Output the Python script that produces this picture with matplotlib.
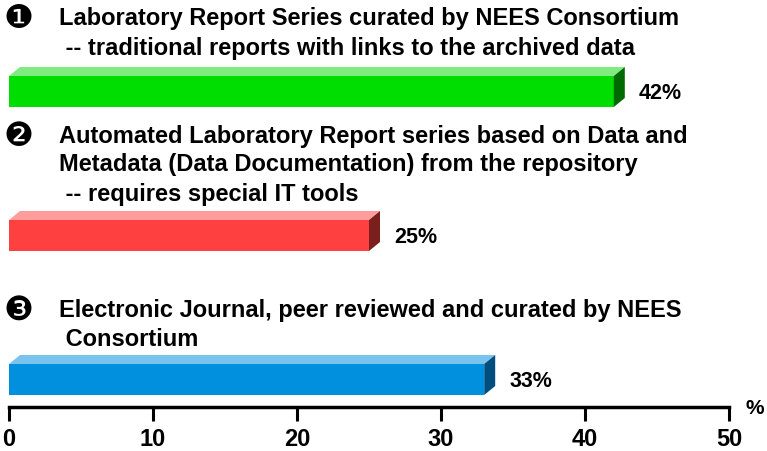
import matplotlib
matplotlib.use("Agg")
import matplotlib.pyplot as plt
from matplotlib.patches import Polygon

# data
values = [42, 25, 33]
markers = ["\u2776", "\u2777", "\u2778"]
captions = [
    ["Laboratory Report Series curated by NEES Consortium",
     " -- traditional reports with links to the archived data"],
    ["Automated Laboratory Report series based on Data and",
     "Metadata (Data Documentation) from the repository",
     " -- requires special IT tools"],
    ["Electronic Journal, peer reviewed and curated by NEES",
     " Consortium"],
]
front_colors = ["#00DD00", "#FF4040", "#0090DD"]
top_colors = ["#80EC80", "#FF9C9C", "#78C4EE"]
side_colors = ["#006A00", "#7A1E1E", "#004E80"]
xticks = [0, 10, 20, 30, 40, 50]

# layout (pixel rows, figure is 767x451 at 100 dpi)
W, H = 767, 451
bar_top = [76, 220, 364]
bar_h = 31
text_y = [19, 136, 311]
line_gap = 29
depth_px = (11, 9)

plt.rcParams['font.family'] = ['Liberation Sans', 'DejaVu Sans']
fig = plt.figure(figsize=(W / 100, H / 100), dpi=100)
x0, x1 = 9, 729
ax = fig.add_axes([x0 / W, 0, (x1 - x0) / W, 1])
ax.set_xlim(0, 50)
ax.set_ylim(H, 0)
upx = 50 / (x1 - x0)  # data units per pixel
dx = depth_px[0] * upx
dy = depth_px[1]

for i, v in enumerate(values):
    t = bar_top[i]
    ax.barh(t + bar_h / 2, v, height=bar_h, left=0, color=front_colors[i], zorder=2)
    ax.add_patch(Polygon([(0, t), (dx, t - dy), (v + dx, t - dy), (v, t)],
                         closed=True, color=top_colors[i], lw=0, zorder=2))
    ax.add_patch(Polygon([(v, t), (v + dx, t - dy), (v + dx, t + bar_h - dy), (v, t + bar_h)],
                         closed=True, color=side_colors[i], lw=0, zorder=2))
    ax.text(v + 25 * upx, t + bar_h / 2 + 2, f"{v}%", fontsize=15.5,
            fontweight='bold', va='center', ha='left')

    ax.text(-0.35, text_y[i], markers[i], fontsize=24, va='center', ha='left',
            family=['DejaVu Sans'])
    for j, line in enumerate(captions[i]):
        ax.text(3.45, text_y[i] + j * line_gap, line, fontsize=17, fontweight='bold',
                va='center', ha='left')

for s in ['top', 'right', 'left']:
    ax.spines[s].set_visible(False)
ax.spines['bottom'].set_position(('data', 407))
ax.spines['bottom'].set_linewidth(2.5)
ax.set_yticks([])
ax.set_xticks(xticks)
ax.tick_params(axis='x', direction='out', length=10, width=2.2, pad=5, labelsize=17)
for lab in ax.get_xticklabels():
    lab.set_fontweight('bold')
ax.text(50 + 16 * upx, 408, "%", fontsize=15, fontweight='bold', va='center', ha='left', clip_on=False)
ax.patch.set_alpha(0)

fig.savefig("out.png", dpi=100)
